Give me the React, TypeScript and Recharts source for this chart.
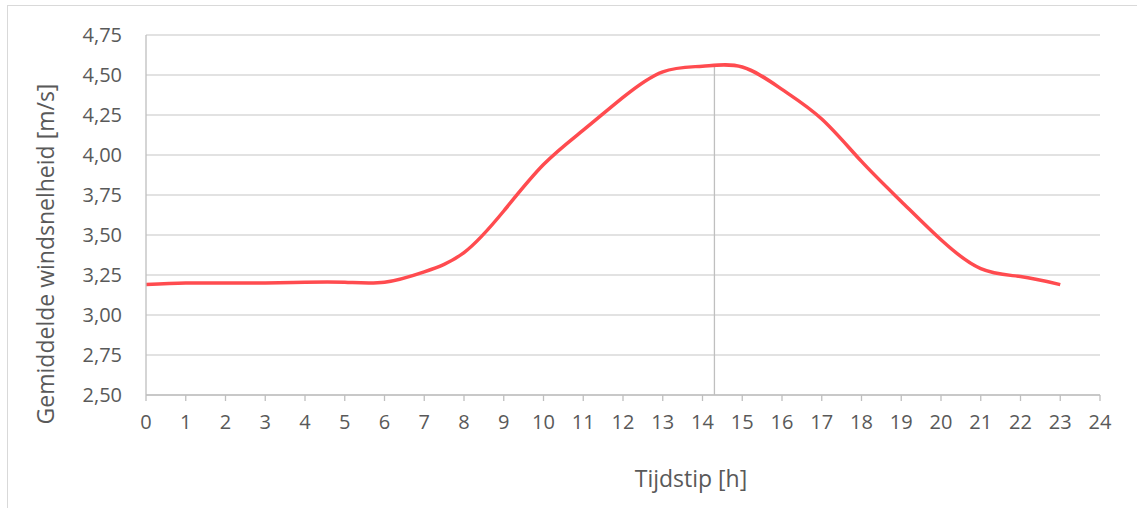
import React from "react";
import {
  LineChart,
  Line,
  XAxis,
  YAxis,
  CartesianGrid,
  ReferenceLine,
} from "recharts";

const hours = [
  0, 1, 2, 3, 4, 5, 6, 7, 8, 9, 10, 11, 12, 13, 14, 15, 16, 17, 18, 19, 20, 21,
  22, 23,
];
const windSpeed = [
  3.19, 3.2, 3.2, 3.2, 3.205, 3.205, 3.205, 3.27, 3.39, 3.65, 3.94, 4.155, 4.36,
  4.52, 4.555, 4.55, 4.41, 4.225, 3.96, 3.71, 3.47, 3.29, 3.24, 3.19,
];
const xTicks = [
  0, 1, 2, 3, 4, 5, 6, 7, 8, 9, 10, 11, 12, 13, 14, 15, 16, 17, 18, 19, 20, 21,
  22, 23, 24,
];
const yTicks = [2.5, 2.75, 3, 3.25, 3.5, 3.75, 4, 4.25, 4.5, 4.75];
const markerHour = 14.3;
const markerTop = 4.56;

const data = hours.map((h, i) => ({ hour: h, speed: windSpeed[i] }));

const font = "'Open Sans', sans-serif";
const textColor = "#595959";

const App = () => {
  return (
    <div
      style={{
        position: "absolute",
        left: 0,
        top: 0,
        width: 1137,
        height: 508,
        background: "#fff",
        fontFamily: font,
      }}
    >
      <div
        style={{
          position: "absolute",
          left: 7,
          top: 5,
          width: 1140,
          height: 510,
          border: "1px solid #d9d9d9",
        }}
      />
      <LineChart
        width={1137}
        height={508}
        data={data}
        margin={{ top: 35, right: 37, left: 86, bottom: 83 }}
        style={{ position: "absolute", left: 0, top: 0 }}
      >
        <CartesianGrid vertical={false} stroke="#d9d9d9" strokeWidth={1.3} />
        <XAxis
          dataKey="hour"
          type="number"
          domain={[0, 24]}
          ticks={xTicks}
          interval={0}
          height={30}
          stroke="#bfbfbf"
          strokeWidth={1.3}
          tickSize={6}
          tickMargin={14}
          tick={{ fill: textColor, fontSize: 20, fontFamily: font }}
        />
        <YAxis
          type="number"
          domain={[2.5, 4.75]}
          ticks={yTicks}
          interval={0}
          width={60}
          stroke="#bfbfbf"
          strokeWidth={1.3}
          tickLine={false}
          tickSize={0}
          tickMargin={24}
          tickFormatter={(v: number) => v.toFixed(2).replace(".", ",")}
          tick={{ fill: textColor, fontSize: 20, fontFamily: font }}
        />
        <ReferenceLine
          segment={[
            { x: markerHour, y: markerTop },
            { x: markerHour, y: 2.5 },
          ]}
          stroke="#bfbfbf"
          strokeWidth={1.3}
        />
        <Line
          type="natural"
          dataKey="speed"
          stroke="#ff4b4f"
          strokeWidth={3.5}
          dot={false}
          isAnimationActive={false}
        />
      </LineChart>
      <div
        style={{
          position: "absolute",
          left: 691,
          top: 478,
          transform: "translate(-50%, -50%)",
          color: textColor,
          fontSize: 23,
          whiteSpace: "nowrap",
        }}
      >
        Tijdstip [h]
      </div>
      <div
        style={{
          position: "absolute",
          left: 45,
          top: 254,
          transform: "translate(-50%, -50%) rotate(-90deg)",
          color: textColor,
          fontSize: 23,
          whiteSpace: "nowrap",
        }}
      >
        Gemiddelde windsnelheid [m/s]
      </div>
    </div>
  );
};

export default App;
